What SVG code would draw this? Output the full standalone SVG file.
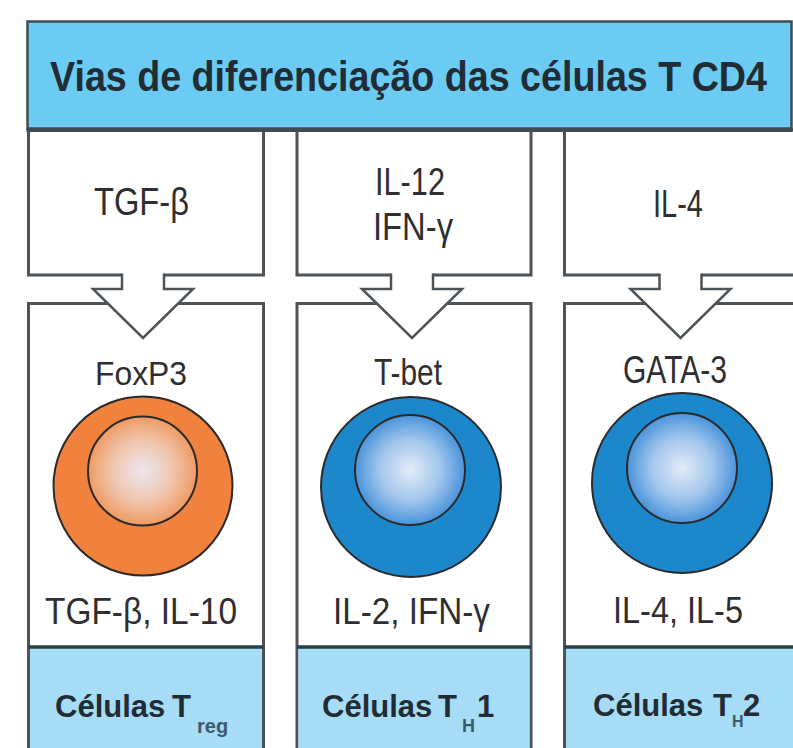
<svg xmlns="http://www.w3.org/2000/svg" width="793" height="748" viewBox="0 0 793 748">
  <defs>
    <radialGradient id="nucOrange" cx="0.5" cy="0.5" r="0.5">
      <stop offset="0" stop-color="#ebe6f0"/>
      <stop offset="0.55" stop-color="#efc6ae"/>
      <stop offset="1" stop-color="#ef9a62"/>
    </radialGradient>
    <radialGradient id="nucBlue" cx="0.5" cy="0.5" r="0.5">
      <stop offset="0" stop-color="#e3ecf7"/>
      <stop offset="0.55" stop-color="#a2c6ec"/>
      <stop offset="1" stop-color="#4a94da"/>
    </radialGradient>
  </defs>
  <style>
    .box{fill:#ffffff;stroke:#4d5357;stroke-width:3}
    .foot{fill:#a6dcf5}
    .sep{stroke:#2d3d47;stroke-width:3.5}
    .txt{font-family:"Liberation Sans",Arial,sans-serif;fill:#2f2f31}
    .lbl{font-family:"Liberation Sans",Arial,sans-serif;font-weight:bold;font-size:31px;fill:#222c35}
    .sub{fill:#3d5a6a}
    .arrowFill{fill:#ffffff;stroke:none}
    .arrowLine{fill:none;stroke:#4d5357;stroke-width:2.5;stroke-linejoin:miter}
    .cell{stroke:#2b2a2a;stroke-width:2}
  </style>

  <!-- three pathway columns -->
  <g id="col-treg">
    <rect class="box" x="28.5" y="130" width="235" height="145"/>
    <rect class="box" x="28.5" y="303.5" width="235" height="470"/>
    <rect class="foot" x="30" y="647" width="232" height="110"/>
    <line class="sep" x1="28.5" y1="647" x2="263.5" y2="647"/>
    <text class="txt" x="94" y="215" font-size="38" textLength="95" lengthAdjust="spacingAndGlyphs">TGF-β</text>
    <text class="txt" x="95" y="385" font-size="33" textLength="92" lengthAdjust="spacingAndGlyphs">FoxP3</text>
    <circle class="cell" cx="143" cy="486" r="89.5" fill="#f0823e"/>
    <circle class="cell" cx="142.5" cy="471" r="54.5" fill="url(#nucOrange)"/>
    <text class="txt" x="45" y="624" font-size="37" textLength="192" lengthAdjust="spacingAndGlyphs">TGF-β,  IL-10</text>
    <text class="lbl" y="717"><tspan x="55">Células</tspan><tspan x="172">T</tspan><tspan class="sub" x="197" y="733" font-size="20">reg</tspan></text>
  </g>

  <g id="col-th1">
    <rect class="box" x="297" y="130" width="234" height="145"/>
    <rect class="box" x="297" y="303.5" width="234" height="470"/>
    <rect class="foot" x="298.5" y="647" width="231" height="110"/>
    <line class="sep" x1="297" y1="647" x2="531" y2="647"/>
    <text class="txt" x="375" y="195" font-size="38" textLength="70" lengthAdjust="spacingAndGlyphs">IL-12</text>
    <text class="txt" x="373" y="240" font-size="38" textLength="80" lengthAdjust="spacingAndGlyphs">IFN-γ</text>
    <text class="txt" x="374" y="385" font-size="37" textLength="68" lengthAdjust="spacingAndGlyphs">T-bet</text>
    <circle class="cell" cx="411" cy="487" r="90" fill="#1c87cb"/>
    <circle class="cell" cx="410" cy="470" r="55" fill="url(#nucBlue)"/>
    <text class="txt" x="333" y="624" font-size="37" textLength="157" lengthAdjust="spacingAndGlyphs">IL-2,  IFN-γ</text>
    <text class="lbl" y="717"><tspan x="322">Células</tspan><tspan x="438">T</tspan><tspan class="sub" x="462" y="732" font-size="18">H</tspan><tspan x="477" y="717">1</tspan></text>
  </g>

  <g id="col-th2">
    <rect class="box" x="564.5" y="130" width="250" height="145"/>
    <rect class="box" x="564.5" y="303.5" width="250" height="470"/>
    <rect class="foot" x="566" y="647" width="240" height="110"/>
    <line class="sep" x1="564.5" y1="647" x2="800" y2="647"/>
    <text class="txt" x="653" y="217" font-size="38" textLength="50" lengthAdjust="spacingAndGlyphs">IL-4</text>
    <text class="txt" x="623" y="383" font-size="38" textLength="104" lengthAdjust="spacingAndGlyphs">GATA-3</text>
    <circle class="cell" cx="682" cy="483" r="90" fill="#1c87cb"/>
    <circle class="cell" cx="682" cy="468" r="55" fill="url(#nucBlue)"/>
    <text class="txt" x="613" y="623" font-size="37" textLength="130" lengthAdjust="spacingAndGlyphs">IL-4,  IL-5</text>
    <text class="lbl" y="716"><tspan x="593">Células</tspan><tspan x="713">T</tspan><tspan class="sub" x="732" y="727" font-size="16">H</tspan><tspan x="743" y="716">2</tspan></text>
  </g>

  <!-- header band -->
  <g id="title">
    <rect x="27.5" y="21.5" width="764" height="107" fill="#6bcbf2" stroke="#3f4c52" stroke-width="2.5"/>
    <line x1="26.5" y1="130" x2="792.5" y2="130" stroke="#3f4c52" stroke-width="4"/>
    <text class="lbl" x="50" y="0" style="font-size:38.5px" fill="#1b2733" transform="translate(0,91) scale(1,1.1)" textLength="717" lengthAdjust="spacingAndGlyphs">Vias de diferenciação das células T CD4</text>
  </g>

  <!-- hollow block arrows from inducers to transcription factors -->
  <g id="connectors">
    <path class="arrowFill" d="M122,272 V289 H93 L143,338 L193,289 H164 V272 Z"/>
    <path class="arrowLine" d="M122,273.5 V289 H93 L143,338 L193,289 H164 V273.5"/>
    <path class="arrowFill" d="M391,272 V289 H362 L412,338 L462,289 H433 V272 Z"/>
    <path class="arrowLine" d="M391,273.5 V289 H362 L412,338 L462,289 H433 V273.5"/>
    <path class="arrowFill" d="M659.5,272 V289 H630.5 L680.5,338 L730.5,289 H701.5 V272 Z"/>
    <path class="arrowLine" d="M659.5,273.5 V289 H630.5 L680.5,338 L730.5,289 H701.5 V273.5"/>
  </g>
</svg>
